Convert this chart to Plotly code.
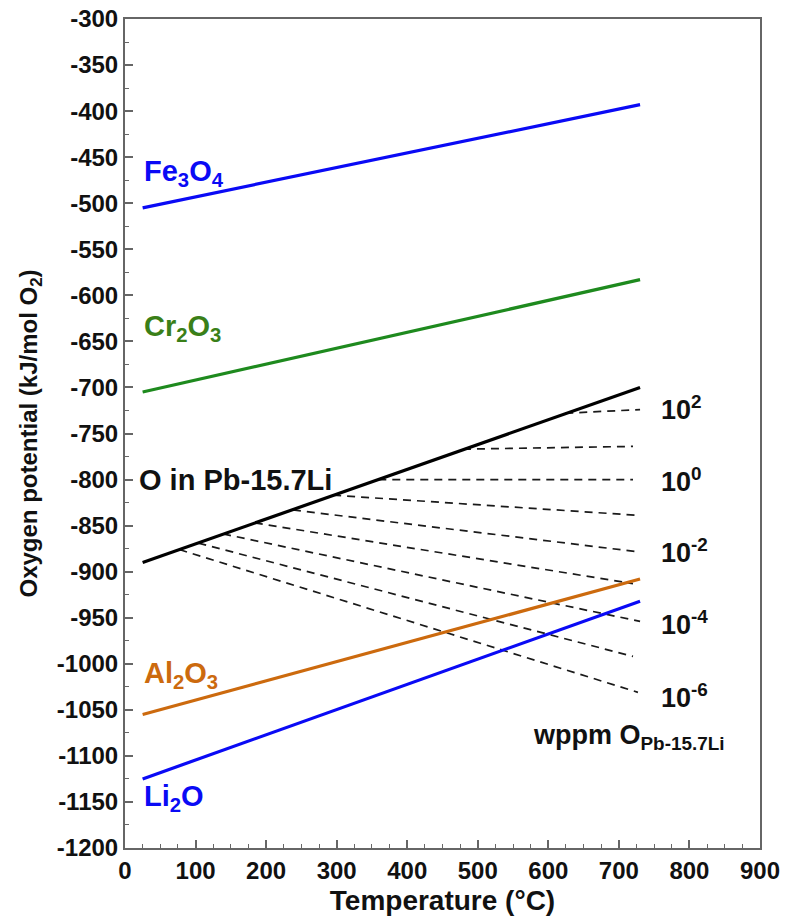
import plotly.graph_objects as go

# ---- data ----
T_ENDS = [25, 730]
fe3o4 = [-505, -393]
cr2o3 = [-705, -583]
o_pbli = [-890, -700]
al2o3 = [-1055, -908]
li2o = [-1125, -932]

# dashed iso-concentration lines (wppm O: 1e2 ... 1e-6)
dash_start_T = [624, 479, 359, 295, 238, 184, 139, 104, 77]
dash_start_y = [-728, -767, -800, -817, -833, -847, -859, -869, -876]
dash_end_T = [730, 720, 720, 730, 722, 720, 730, 720, 727]
dash_end_y = [-724, -764, -800, -839, -878, -913, -954, -992, -1031]

conc_labels = ["10<sup>2</sup>", "10<sup>0</sup>", "10<sup>-2</sup>", "10<sup>-4</sup>", "10<sup>-6</sup>"]
conc_label_y = [-722, -800, -878, -956, -1035]

x_ticks = list(range(0, 901, 100))
y_ticks = list(range(-1200, -299, 50))

FONT = "Liberation Sans, Arial, sans-serif"

fig = go.Figure()

for i in range(len(dash_start_T)):
    fig.add_trace(go.Scatter(
        x=[dash_start_T[i], dash_end_T[i]], y=[dash_start_y[i], dash_end_y[i]],
        mode="lines", line=dict(color="#1a1a1a", width=1.7, dash="8px,6px"),
        showlegend=False, hoverinfo="skip"))

series = [
    (fe3o4, "#0A0AF5"),
    (cr2o3, "#1E8A1E"),
    (o_pbli, "#000000"),
    (al2o3, "#CC6A0E"),
    (li2o, "#0A0AF5"),
]
for ys, col in series:
    fig.add_trace(go.Scatter(x=T_ENDS, y=ys, mode="lines",
                             line=dict(color=col, width=3.2),
                             showlegend=False, hoverinfo="skip"))

labels = [
    ("Fe<sub>3</sub>O<sub>4</sub>", 24, -467, "#0A0AF5"),
    ("Cr<sub>2</sub>O<sub>3</sub>", 24, -636, "#3A7F18"),
    ("O in Pb-15.7Li", 17, -800, "#111111"),
    ("Al<sub>2</sub>O<sub>3</sub>", 24, -1012, "#CC6A0E"),
    ("Li<sub>2</sub>O", 24, -1146, "#0A0AF5"),
]
for txt, x, y, col in labels:
    fig.add_annotation(x=x, y=y, text=txt, showarrow=False, xanchor="left",
                       yanchor="middle",
                       font=dict(family=FONT, size=29, color=col, weight="bold"))

for txt, y in zip(conc_labels, conc_label_y):
    fig.add_annotation(x=757, y=y, text=txt, showarrow=False, xanchor="left",
                       yanchor="middle",
                       font=dict(family=FONT, size=27, color="#111111", weight="bold"))

fig.add_annotation(x=575, y=-1080, text="wppm O<sub>Pb-15.7Li</sub>", showarrow=False,
                   xanchor="left", yanchor="middle",
                   font=dict(family=FONT, size=27, color="#111111", weight="bold"))

axcol = "#666666"
fig.update_xaxes(range=[0, 900], tickvals=x_ticks, ticktext=[str(v) for v in x_ticks],
                 ticks="inside", ticklen=8, automargin=False,
                 tickwidth=1.5, tickcolor=axcol, showline=True, linecolor=axcol,
                 linewidth=2, mirror=True, showgrid=False, zeroline=False,
                 minor=dict(dtick=25, tick0=0, ticks="inside", ticklen=4, tickcolor=axcol, tickwidth=1.2),
                 tickfont=dict(family=FONT, size=24, color="#111111", weight="bold"),
                 title=dict(text="Temperature (°C)", standoff=8,
                            font=dict(family=FONT, size=28, color="#111111", weight="bold")))
fig.update_yaxes(range=[-1200, -300], tickvals=y_ticks, ticktext=[str(v) for v in y_ticks],
                 ticks="inside", ticklen=8, automargin=False,
                 tickwidth=1.5, tickcolor=axcol, showline=True, linecolor=axcol,
                 linewidth=2, mirror=True, showgrid=False, zeroline=False,
                 minor=dict(dtick=25, tick0=-1200, ticks="inside", ticklen=4, tickcolor=axcol, tickwidth=1.2),
                 tickfont=dict(family=FONT, size=24, color="#111111", weight="bold"),
                 title=dict(text="Oxygen potential (kJ/mol O<sub>2</sub>)", standoff=12,
                            font=dict(family=FONT, size=24, color="#111111", weight="bold")))

fig.update_layout(width=786, height=918, plot_bgcolor="white", paper_bgcolor="white",
                  margin=dict(l=125, r=26, t=19, b=70))

fig.write_html("out.html")
